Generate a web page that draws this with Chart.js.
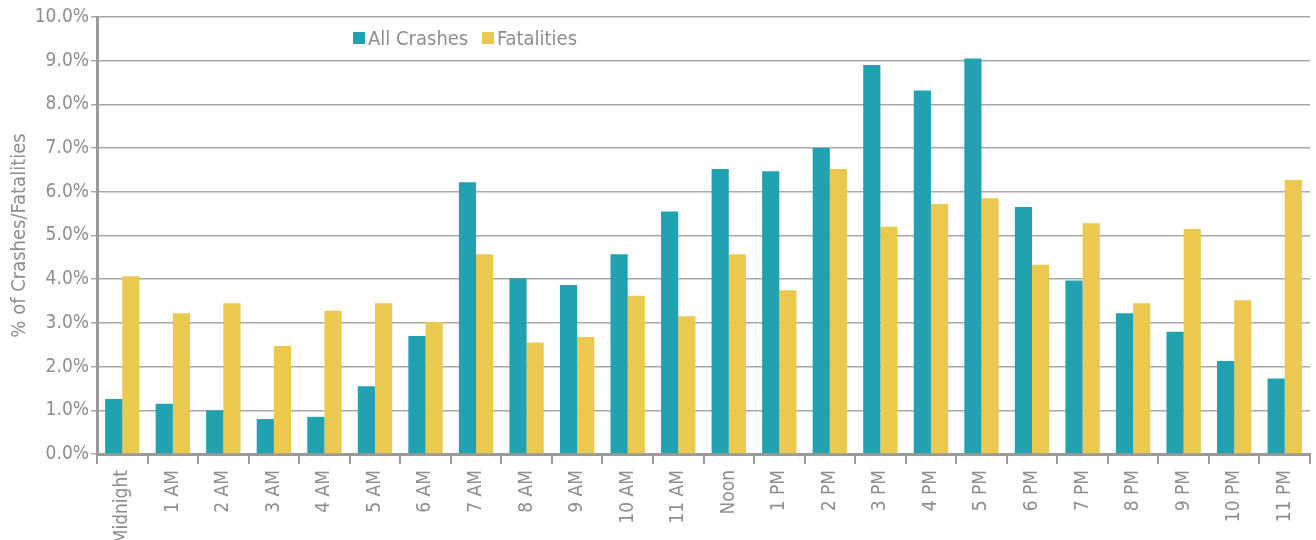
<!DOCTYPE html>
<html>
<head>
<meta charset="utf-8">
<script src="https://cdn.jsdelivr.net/npm/chart.js@4"></script>
<style>
  html, body { margin: 0; padding: 0; background: #fff; overflow: hidden; }
  #wrap { position: relative; width: 1316px; height: 540px; }
  #legend { position: absolute; left: 353px; top: 26px; font-family: "DejaVu Sans Condensed", "Liberation Sans Narrow", sans-serif; font-size: 20px; color: #8e8e8e; white-space: nowrap; }
  #legend span.sw { display: inline-block; width: 12px; height: 12px; margin-right: 3px; vertical-align: 1px; }
  #legend span.item { margin-right: 8px; }
</style>
</head>
<body>
<div id="wrap">
  <canvas id="chart" width="1316" height="540"></canvas>
  <div id="legend">
    <span class="item"><span class="sw" style="background:#22a1b1"></span>All Crashes</span>
    <span class="item"><span class="sw" style="background:#ebc94f"></span>Fatalities</span>
  </div>
</div>
<script>
// Data
const hours = ['Midnight', '1 AM', '2 AM', '3 AM', '4 AM', '5 AM', '6 AM', '7 AM', '8 AM', '9 AM', '10 AM', '11 AM',
               'Noon', '1 PM', '2 PM', '3 PM', '4 PM', '5 PM', '6 PM', '7 PM', '8 PM', '9 PM', '10 PM', '11 PM'];
const allCrashes = [1.26, 1.15, 1.0, 0.8, 0.85, 1.55, 2.7, 6.22, 4.02, 3.87, 4.57, 5.55,
                    6.52, 6.47, 7.0, 8.9, 8.32, 9.05, 5.65, 3.97, 3.22, 2.8, 2.13, 1.73];
const fatalities = [4.07, 3.22, 3.45, 2.47, 3.28, 3.45, 3.02, 4.57, 2.55, 2.68, 3.62, 3.15,
                    4.57, 3.75, 6.52, 5.2, 5.72, 5.85, 4.33, 5.28, 3.45, 5.15, 3.52, 6.27];

const font = '"DejaVu Sans Condensed", "Liberation Sans Narrow", sans-serif';
const grey = '#8e8e8e';

const ctx = document.getElementById('chart').getContext('2d');
new Chart(ctx, {
    type: 'bar',
    data: {
        labels: hours,
        datasets: [
            { label: 'All Crashes', data: allCrashes, backgroundColor: '#22a1b1' },
            { label: 'Fatalities', data: fatalities, backgroundColor: '#ebc94f' }
        ]
    },
    options: {
        responsive: false,
        animation: false,
        layout: { padding: { top: 17, right: 6, left: 0, bottom: 0 } },
        datasets: { bar: { categoryPercentage: 0.68, barPercentage: 1.0 } },
        plugins: { legend: { display: false }, tooltip: { enabled: false } },
        scales: {
            x: {
                grid: { offset: true, drawOnChartArea: false, color: '#9a9a9a', lineWidth: 2, tickLength: 10 },
                border: { color: '#9a9a9a', width: 3 },
                ticks: { autoSkip: false, minRotation: 90, maxRotation: 90, color: grey, font: { family: font, size: 19 }, padding: 6 },
                afterFit: (s) => { s.height = 86; }
            },
            y: {
                min: 0, max: 10,
                grid: { color: '#a8a8a8', lineWidth: 1.5, tickLength: 6 },
                border: { color: '#9a9a9a', width: 3 },
                ticks: { stepSize: 1, color: grey, font: { family: font, size: 19 }, padding: 2, callback: (v) => v.toFixed(1) + '%' },
                title: { display: true, text: '% of Crashes/Fatalities', color: grey, font: { family: font, size: 20 }, padding: 8 },
                afterFit: (s) => { s.width = 97; }
            }
        }
    }
});
</script>
</body>
</html>
